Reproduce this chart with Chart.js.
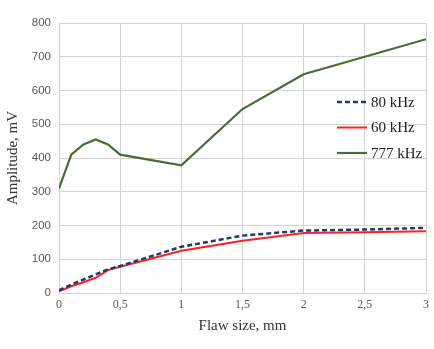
<!DOCTYPE html>
<html>
<head>
<meta charset="utf-8">
<script src="https://cdn.jsdelivr.net/npm/chart.js@4"></script>
<style>
  html, body { margin: 0; padding: 0; background: #fff; }
  #wrap { width: 434px; height: 349px; }
</style>
</head>
<body>
<div id="wrap"><canvas id="chart" width="434" height="349"></canvas></div>
<script>
// ── Data ───────────────────────────────────────────────
const flawSize = [0, 0.1, 0.2, 0.3, 0.4, 0.5, 1, 1.5, 2, 2.5, 3];
const amp80 = [8, 25, 40, 55, 70, 80, 137, 170, 185, 188, 193];
const amp60 = [5, 20, 32, 45, 68, 78, 125, 155, 178, 180, 183];
const amp777 = [310, 410, 440, 455, 440, 410, 378, 545, 648, 700, 752];
const seriesLabels = ['80 kHz', '60 kHz', '777 kHz'];

const pts = ys => flawSize.map((x, i) => ({ x, y: ys[i] }));

// ── Legend drawn inside the plot ───────────────────────
const innerLegend = {
  id: 'innerLegend',
  afterDraw(chart) {
    const ctx = chart.ctx;
    const x0 = 337, y0 = 102, step = 25.5;
    chart.data.datasets.forEach((ds, i) => {
      const y = y0 + i * step;
      ctx.save();
      ctx.strokeStyle = ds.borderColor;
      ctx.lineWidth = ds.borderWidth;
      ctx.setLineDash(ds.borderDash || []);
      ctx.beginPath();
      ctx.moveTo(x0, y);
      ctx.lineTo(x0 + 30, y);
      ctx.stroke();
      ctx.setLineDash([]);
      ctx.fillStyle = '#222';
      ctx.font = '15px "Liberation Serif", serif';
      ctx.textBaseline = 'middle';
      ctx.fillText(ds.label, x0 + 34, y + 1);
      ctx.restore();
    });
  }
};

const mkSet = (label, data, color, width, dash) => ({
  label, data: pts(data), borderColor: color, backgroundColor: color,
  borderWidth: width, borderDash: dash, pointRadius: 0, tension: 0, fill: false
});

new Chart(document.getElementById('chart'), {
  type: 'line',
  data: {
    datasets: [
      mkSet(seriesLabels[0], amp80, '#223a6b', 2.5, [5, 3]),
      mkSet(seriesLabels[1], amp60, '#ff2020', 2, []),
      mkSet(seriesLabels[2], amp777, '#4a6b35', 2.2, []),
    ]
  },
  options: {
    responsive: false,
    animation: false,
    layout: { padding: { left: 0, top: 23, right: 0, bottom: 10 } },
    plugins: { legend: { display: false }, tooltip: { enabled: false } },
    scales: {
      x: {
        type: 'linear', min: 0, max: 3,
        ticks: {
          stepSize: 0.5, color: '#595959', padding: 5,
          font: { size: 12, family: '"Liberation Serif", serif' },
          callback: v => String(v).replace('.', ',')
        },
        grid: { color: '#d4d4d4', lineWidth: 1, drawTicks: false },
        border: { color: '#d4d4d4' },
        title: {
          display: true, text: 'Flaw size, mm', color: '#333',
          font: { size: 15, family: '"Liberation Serif", serif' }, padding: { top: 4 }
        },
        afterFit: s => { s.height = 46; }
      },
      y: {
        min: 0, max: 800,
        ticks: {
          stepSize: 100, color: '#595959', padding: 8,
          font: { size: 11.5, family: '"Liberation Sans", sans-serif' }
        },
        grid: { color: '#d4d4d4', lineWidth: 1, drawTicks: false },
        border: { color: '#d4d4d4' },
        title: {
          display: true, text: 'Amplitude, mV', color: '#333',
          font: { size: 15, family: '"Liberation Serif", serif' }, padding: { bottom: 4 }
        },
        afterFit: s => { s.width = 59; }
      }
    }
  },
  plugins: [innerLegend]
});
</script>
</body>
</html>
